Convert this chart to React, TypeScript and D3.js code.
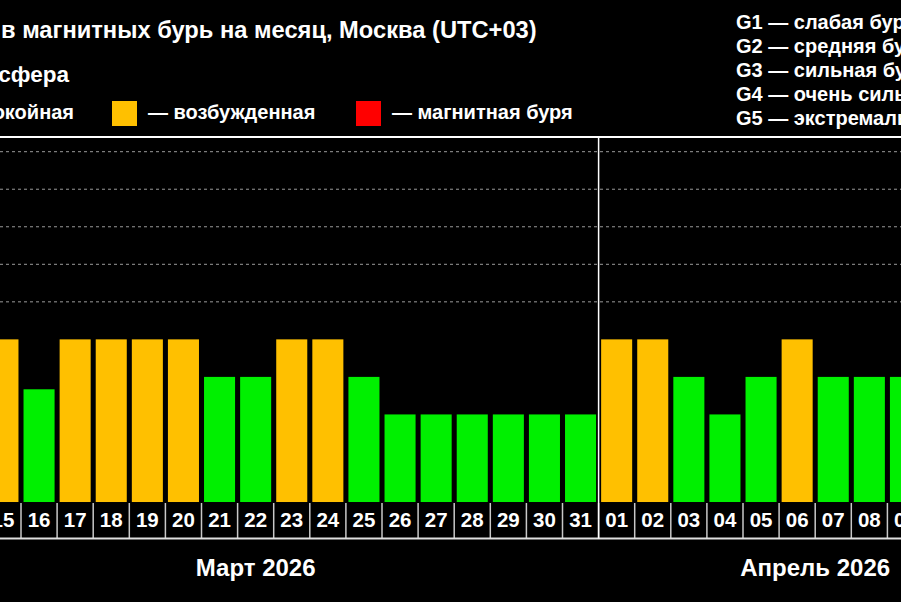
import { useMemo } from "react";
import * as d3 from "d3";

// Kp forecast, 13 March – 12 April 2026 (days outside the visible crop are null)
const days = [
  "13", "14", "15", "16", "17", "18", "19", "20", "21", "22", "23", "24", "25", "26", "27", "28", "29", "30", "31",
  "01", "02", "03", "04", "05", "06", "07", "08", "09", "10", "11", "12",
];
const kp: (number | null)[] = [
  null, null, 4, 2.67, 4, 4, 4, 4, 3, 3, 4, 4, 3, 2, 2, 2, 2, 2, 2,
  4, 4, 3, 2, 3, 4, 3, 3, 3, null, null, null,
];
const months = [
  { label: "Март 2026", first: 0, last: 18 },
  { label: "Апрель 2026", first: 19, last: 30 },
];
const stormLevels = [5, 6, 7, 8, 9];
const gLegend = [
  "G1 — слабая буря",
  "G2 — средняя буря",
  "G3 — сильная буря",
  "G4 — очень сильная буря",
  "G5 — экстремальная буря",
];

const W = 901;
const H = 602;
const FONT = "'Liberation Sans', Arial, sans-serif";
const GREEN = "#00f000";
const YELLOW = "#ffc000";
const RED = "#ff0000";
const BAR_BASE = -1 / 3;

const colorFor = (v: number) => (v >= 5 ? RED : v >= 4 ? YELLOW : GREEN);

export default function App() {
  const x = useMemo(
    () =>
      d3
        .scaleBand<string>()
        .domain(days.map((d, i) => `${i}`))
        .range([-87.3, -87.3 + 36.1 * days.length])
        .paddingInner(0.14)
        .paddingOuter(0.07),
    []
  );
  const y = useMemo(() => d3.scaleLinear().domain([0, 9]).range([489.5, 151.7]), []);

  const step = x.step();
  const bandStart = (i: number) => (x(`${i}`) ?? 0) - step * 0.07;
  const labelTop = y(BAR_BASE) + 1;
  const labelBottom = 538.5;
  const sepX = bandStart(months[1].first);

  return (
    <svg
      width={W}
      height={H}
      style={{ position: "absolute", left: 0, top: 0, background: "#000" }}
      fontFamily={FONT}
      fontWeight="bold"
    >
      <rect width={W} height={H} fill="#000" />

      {/* header */}
      <text x={1} y={38} fill="#fff" fontSize={23.7}>
        в магнитных бурь на месяц, Москва (UTC+03)
      </text>
      <text x={69} y={82} fill="#fff" fontSize={22.5} textAnchor="end">
        Магнитосфера
      </text>
      <text x={74} y={118.5} fill="#fff" fontSize={20} textAnchor="end">
        — спокойная
      </text>
      <rect x={112} y={101} width={25} height={25} fill={YELLOW} />
      <text x={148} y={118.5} fill="#fff" fontSize={20}>
        — возбужденная
      </text>
      <rect x={356} y={101} width={25} height={25} fill={RED} />
      <text x={392} y={118.5} fill="#fff" fontSize={20}>
        — магнитная буря
      </text>
      {gLegend.map((t, i) => (
        <text key={t} x={736} y={28.5 + i * 24.2} fill="#fff" fontSize={20}>
          {t}
        </text>
      ))}

      {/* frame */}
      <line x1={0} x2={W} y1={137} y2={137} stroke="#fff" strokeWidth={2} />
      {stormLevels.map((lv) => (
        <line
          key={lv}
          x1={0}
          x2={W}
          y1={y(lv)}
          y2={y(lv)}
          stroke="#9a9a9a"
          strokeWidth={1}
          strokeDasharray="3,3"
        />
      ))}

      {/* bars */}
      {kp.map((v, i) =>
        v == null ? null : (
          <rect
            key={i}
            x={x(`${i}`)}
            y={y(v)}
            width={x.bandwidth()}
            height={y(BAR_BASE) - y(v)}
            fill={colorFor(v)}
          />
        )
      )}

      {/* day labels */}
      {days.map((d, i) => (
        <g key={i}>
          <line
            x1={bandStart(i)}
            x2={bandStart(i)}
            y1={labelTop}
            y2={labelBottom}
            stroke="#c8c8c8"
            strokeWidth={1.5}
          />
          <text
            x={(x(`${i}`) ?? 0) + x.bandwidth() / 2}
            y={527}
            fill="#fff"
            fontSize={20.5}
            textAnchor="middle"
          >
            {d}
          </text>
        </g>
      ))}
      <line x1={0} x2={W} y1={labelBottom} y2={labelBottom} stroke="#e0e0e0" strokeWidth={2} />
      <line x1={sepX} x2={sepX} y1={137} y2={labelBottom} stroke="#fff" strokeWidth={1.5} />

      {/* months */}
      {months.map((m) => {
        const cx = ((x(`${m.first}`) ?? 0) + (x(`${m.last}`) ?? 0) + x.bandwidth()) / 2;
        return (
          <text key={m.label} x={cx} y={576} fill="#fff" fontSize={24} textAnchor="middle">
            {m.label}
          </text>
        );
      })}
    </svg>
  );
}
